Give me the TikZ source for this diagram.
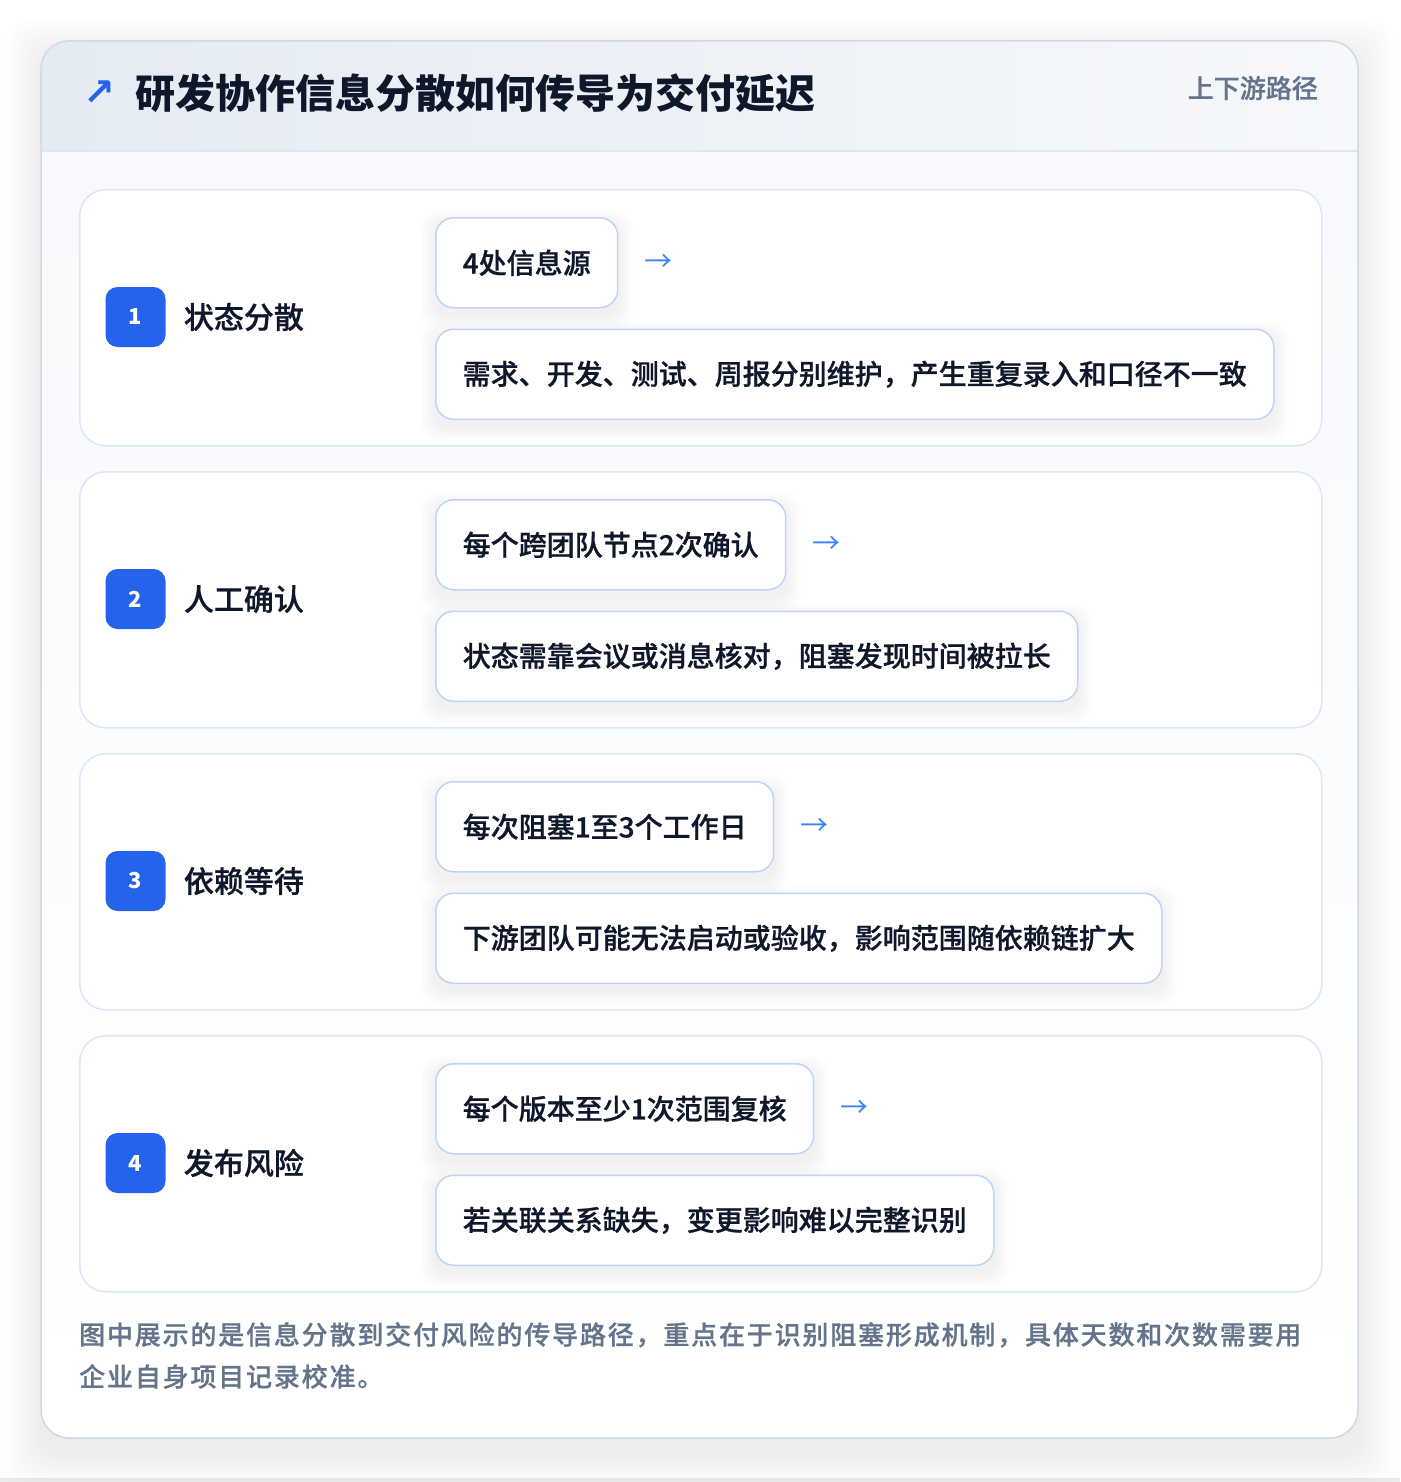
\documentclass[tikz,border=0pt]{standalone}
\usepackage{fontspec}
\setmainfont{Noto Sans CJK SC}
\IfFontExistsTF{Noto Sans CJK SC Medium}
  {\newfontfamily\medfont{Noto Sans CJK SC Medium}
   \newfontfamily\semifont[FakeBold=0.7]{Noto Sans CJK SC Medium}}
  {\newcommand{\medfont}{\bfseries}\newcommand{\semifont}{\bfseries}}
\newfontfamily\symfont{DejaVu Sans}
\usetikzlibrary{positioning}
\pgfdeclarelayer{back}
\pgfdeclarelayer{shade}
\pgfsetlayers{back,shade,main}
\definecolor{cardline}{HTML}{CFD8E3}
\definecolor{headleft}{HTML}{E5EBF3}
\definecolor{headright}{HTML}{F6F8FB}
\definecolor{bodytop}{HTML}{F7F9FC}
\definecolor{stepline}{HTML}{DCE7F6}
\definecolor{boxline}{HTML}{BDD5F3}
\definecolor{ink}{HTML}{0F172A}
\definecolor{muted}{HTML}{64748B}
\definecolor{badgeblue}{HTML}{2563EB}
\definecolor{arrowblue}{HTML}{3B82F6}
\newcommand{\myradius}{28pt}
\newcommand{\softshadow}[1]{%
  \begin{pgfonlayer}{shade}
  \foreach \s in {2,4,...,14}
    \fill[black,opacity=0.008,rounded corners=18pt]
      ([xshift=-\s pt,yshift=\s pt-7pt]#1.north west) rectangle ([xshift=\s pt,yshift=-\s pt-7pt]#1.south east);
  \end{pgfonlayer}}
\tikzset{
    node style step/.style={draw=stepline,line width=1.5pt,fill=white,rounded corners=26pt,
        minimum width=1242pt,minimum height=256pt,anchor=north west,inner sep=0pt},
    node style badge/.style={fill=badgeblue,rounded corners=12pt,minimum size=60pt,inner sep=0pt,
        text=white,font=\fontsize{22}{26}\selectfont\bfseries},
    node style name/.style={text=ink,font=\fontsize{30}{36}\selectfont\semifont,inner sep=0pt},
    node style fact/.style={draw=boxline,line width=1.5pt,fill=white,rounded corners=18pt,
        minimum height=90pt,inner xsep=27pt,text=ink,font=\fontsize{28}{34}\selectfont\semifont},
    arrow style next/.style={text=arrowblue,font=\fontsize{28}{34}\selectfont,inner sep=0pt},
}

\begin{document}
\begin{tikzpicture}[x=1pt,y=-1pt]
\useasboundingbox (0,0) rectangle (1400,1482);
\begin{pgfonlayer}{back}
\fill[white] (0,0) rectangle (1400,1482);
\fill[black!8] (0,1478) rectangle (1400,1482);
% la carte
\foreach \s in {2,4,...,36}
  \fill[black,opacity=0.0045,rounded corners=\myradius]
    (41-\s,41-\s+14) rectangle (1358+\s,1438+\s+14);
\begin{scope}
  \clip[rounded corners=\myradius] (41,41) rectangle (1358,1438);
  \fill[white] (41,41) rectangle (1358,1438);
  \shade[left color=headleft,right color=headright] (41,41) rectangle (1358,151);
  \shade[top color=bodytop,bottom color=white] (41,151) rectangle (1358,1438);
\end{scope}
\draw[stepline,line width=1.5pt] (41,151) -- (1358,151);
\draw[cardline,line width=1.5pt,rounded corners=\myradius] (41,41) rectangle (1358,1438);
% les etapes
\node (s1) [node style step] at (79,189) {};
\node (s2) [node style step] at (79,471) {};
\node (s3) [node style step] at (79,753) {};
\node (s4) [node style step] at (79,1035) {};
\end{pgfonlayer}
% le titre
\node (arrowicon) [text=badgeblue,font=\fontsize{38}{44}\selectfont\symfont\bfseries,inner sep=0pt]
    at (99,93) {↗};
\node (title) [anchor=west,text=ink,font=\fontsize{40}{48}\selectfont\bfseries,inner sep=0pt]
    at (135,93) {研发协作信息分散如何传导为交付延迟};
\node (tag) [anchor=east,text=muted,font=\fontsize{26}{32}\selectfont\semifont,inner sep=0pt]
    at (1318,88) {上下游路径};
\node (b1) [node style badge] at (135.5,317) {1};
\node (b2) [node style badge] at (135.5,599) {2};
\node (b3) [node style badge] at (135.5,881) {3};
\node (b4) [node style badge] at (135.5,1163) {4};
\node (n1) [node style name,right=18pt of b1] {状态分散};
\node (n2) [node style name,right=18pt of b2] {人工确认};
\node (n3) [node style name,right=18pt of b3] {依赖等待};
\node (n4) [node style name,right=18pt of b4] {发布风险};
% les faits
\node (t1) [node style fact,anchor=north west] at (435,217) {4处信息源};
\node (t2) [node style fact,anchor=north west] at (435,499) {每个跨团队节点2次确认};
\node (t3) [node style fact,anchor=north west] at (435,781) {每次阻塞1至3个工作日};
\node (t4) [node style fact,anchor=north west] at (435,1063) {每个版本至少1次范围复核};
\node (a1) [arrow style next,right=26pt of t1] {→};
\node (a2) [arrow style next,right=26pt of t2] {→};
\node (a3) [arrow style next,right=26pt of t3] {→};
\node (a4) [arrow style next,right=26pt of t4] {→};
\node (d1) [node style fact,below=20pt of t1.south west,anchor=north west]
    {需求、开发、测试、周报分别维护，产生重复录入和口径不一致};
\node (d2) [node style fact,below=20pt of t2.south west,anchor=north west]
    {状态需靠会议或消息核对，阻塞发现时间被拉长};
\node (d3) [node style fact,below=20pt of t3.south west,anchor=north west]
    {下游团队可能无法启动或验收，影响范围随依赖链扩大};
\node (d4) [node style fact,below=20pt of t4.south west,anchor=north west]
    {若关联关系缺失，变更影响难以完整识别};
\softshadow{t1}\softshadow{t2}\softshadow{t3}\softshadow{t4}
\softshadow{d1}\softshadow{d2}\softshadow{d3}\softshadow{d4}
% la note
\node (note) [anchor=north west,align=left,text=muted,inner sep=0pt,
              font=\fontsize{26}{42}\selectfont\semifont\addfontfeature{LetterSpace=7}] at (79,1322)
    {图中展示的是信息分散到交付风险的传导路径，重点在于识别阻塞形成机制，具体天数和次数需要用\\
     企业自身项目记录校准。};
\end{tikzpicture}
\end{document}
